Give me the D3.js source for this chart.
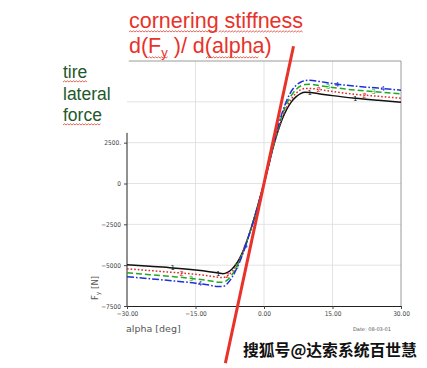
<!DOCTYPE html>
<html><head><meta charset="utf-8">
<script src="https://cdn.jsdelivr.net/npm/d3@7"></script>
<style>html,body{margin:0;padding:0;background:#fff;}svg{display:block;}</style>
</head><body>
<svg id="c" width="427" height="368"></svg>
<script>
// ---- data ----
const alpha = [-30,-25,-20,-15,-12,-10,-9,-8,-7,-6,-5,-4,-3,-2,-1,0,1,2,3,4,5,6,7,8,9,10,12,15,20,25,30];
const fy1 = [-4970,-5070,-5170,-5300,-5400,-5480,-5520,-5440,-5230,-4900,-4400,-3700,-2900,-2000,-1000,0,1100,2200,3150,3950,4550,5000,5300,5500,5580,5570,5500,5380,5220,5090,4970];
const fy2 = [-5220,-5330,-5440,-5560,-5660,-5740,-5760,-5650,-5400,-5000,-4450,-3720,-2900,-2000,-1000,0,1100,2200,3200,4050,4700,5180,5520,5730,5820,5820,5760,5630,5460,5340,5220];
const fy3 = [-5460,-5580,-5700,-5840,-5950,-6040,-6050,-5900,-5580,-5100,-4500,-3750,-2900,-2000,-1000,0,1100,2250,3300,4200,4900,5400,5750,5970,6060,6070,6000,5880,5720,5600,5490];
const fy4 = [-5710,-5830,-5960,-6100,-6220,-6310,-6300,-6120,-5750,-5220,-4580,-3800,-2920,-2000,-1000,0,1120,2300,3400,4350,5100,5650,6000,6200,6300,6320,6250,6120,5960,5840,5710];
const seriesNames = ["1","2","3","4"];
const markerAlpha = [[-20,-10,10,20],[-18,-8,12,22],[-16,-6,14,24],[-14,-4,16,26]];
const xTicks = [-30,-15,0,15,30];
const xTickLabels = ["\u221230.00","\u221215.00","0.00","15.00","30.00"];
const yTicks = [-7500,-5000,-2500,0,2500];
const yTickLabels = ["\u22127500","\u22125000","\u22122500","0","2500."];
const yGrid = [-5000,-2500,0,2500,5000];
const tangentSlope = 1300;          // N per deg
const tangentFy = [-11000, 8400];   // extent of the drawn tangent
const yAxisTop = 3100;

// ---- styles ----
const colors = ["#111111","#e02828","#1faa1f","#1f2fd8"];
const dashes = [null,"1.6,2","6,3","7,2,1.6,2"];

const svg = d3.select("#c");
const x = d3.scaleLinear().domain([-30,30]).range([127,401]);
const y = d3.scaleLinear().domain([-7500,7500]).range([306,61]);

// grid
svg.append("g").selectAll("line").data([-15,0,15]).join("line")
  .attr("x1",d=>x(d)).attr("x2",d=>x(d)).attr("y1",y(7500)).attr("y2",y(-7500))
  .attr("stroke","#dcdcdc").attr("stroke-width",0.8);
svg.append("g").selectAll("line").data(yGrid).join("line")
  .attr("x1",x(-30)).attr("x2",x(30)).attr("y1",d=>y(d)).attr("y2",d=>y(d))
  .attr("stroke","#dcdcdc").attr("stroke-width",0.8);

// frame
svg.append("line").attr("x1",x(-29.6)).attr("x2",x(30)).attr("y1",y(7500)).attr("y2",y(7500)).attr("stroke","#9a9a9a").attr("stroke-width",1);
svg.append("line").attr("x1",x(30)).attr("x2",x(30)).attr("y1",y(7500)).attr("y2",y(-7500)).attr("stroke","#9a9a9a").attr("stroke-width",1);
svg.append("line").attr("x1",x(-30)).attr("x2",x(-30)).attr("y1",y(yAxisTop)).attr("y2",y(-7500)).attr("stroke","#222").attr("stroke-width",1);

// axes
const xAxis = d3.axisBottom(x).tickValues(xTicks).tickFormat((d,i)=>xTickLabels[i]).tickSize(3).tickPadding(2);
const gx = svg.append("g").attr("transform",`translate(0,${y(-7500)})`).call(xAxis);
gx.select(".domain").attr("stroke","#222");
gx.selectAll("text").attr("font-family","DejaVu Sans Condensed, DejaVu Sans").attr("font-size",6.5).attr("fill","#444");
gx.selectAll(".tick line").attr("stroke","#444");

const yAxis = d3.axisLeft(y).tickValues(yTicks).tickFormat((d,i)=>yTickLabels[i]).tickSize(3).tickPadding(3);
const gy = svg.append("g").attr("transform",`translate(${x(-30)},0)`).call(yAxis);
gy.select(".domain").remove();
gy.selectAll("text").attr("font-family","DejaVu Sans Condensed, DejaVu Sans").attr("font-size",6.5).attr("fill","#444");
gy.selectAll(".tick line").attr("stroke","#444");

// curves
const allFy = [fy1,fy2,fy3,fy4];
const line = d3.line().x(d=>x(d[0])).y(d=>y(d[1])).curve(d3.curveMonotoneX);
allFy.forEach((vals,i)=>{
  const pts = alpha.map((a,j)=>[a,vals[j]]);
  svg.append("path").attr("d",line(pts)).attr("fill","none")
    .attr("stroke",colors[i]).attr("stroke-width",1.5)
    .attr("stroke-dasharray",dashes[i]);
  const interp = a => { // value on series at alpha a, from data
    const k = d3.bisectRight(alpha,a)-1; const a0=alpha[k], a1=alpha[k+1];
    return vals[k] + (vals[k+1]-vals[k])*(a-a0)/(a1-a0);
  };
  svg.append("g").selectAll("text").data(markerAlpha[i]).join("text")
    .attr("x",d=>x(d)).attr("y",d=>y(interp(d))+2.5)
    .attr("text-anchor","middle").attr("font-family","DejaVu Sans").attr("font-size",7)
    .attr("fill",colors[i]).text(seriesNames[i]);
});

// tangent line
svg.append("line")
  .attr("x1",x(tangentFy[0]/tangentSlope)).attr("y1",y(tangentFy[0]))
  .attr("x2",x(tangentFy[1]/tangentSlope)).attr("y2",y(tangentFy[1]))
  .attr("stroke","#e8322a").attr("stroke-width",3);

// axis titles
svg.append("text").attr("x",126).attr("y",332).attr("font-family","DejaVu Sans").attr("font-size",9.5).attr("fill","#555").text("alpha [deg]");
const fyl = svg.append("text").attr("transform","translate(98,288) rotate(-90)").attr("text-anchor","middle")
  .attr("font-family","DejaVu Sans").attr("font-size",8.5).attr("fill","#555");
fyl.append("tspan").text("F");
fyl.append("tspan").attr("font-size",6).attr("dy",2).text("y");
fyl.append("tspan").attr("dy",-2).text(" [N]");
svg.append("text").attr("x",353).attr("y",331).attr("font-family","DejaVu Sans").attr("font-size",5).attr("fill","#555").text("Date: 08-03-01");

// measurement helper
function measure(str,size,family){
  const t = svg.append("text").attr("font-family",family).attr("font-size",size).attr("visibility","hidden").text(str);
  const w = t.node().getComputedTextLength(); t.remove(); return w;
}
function squiggle(x0,x1,yb){
  let p = `M${x0},${yb}`; let up=true;
  for(let xx=x0+1.5; xx<=x1; xx+=1.5){ p += `L${xx},${yb+(up?-1.2:0)}`; up=!up; }
  svg.append("path").attr("d",p).attr("fill","none").attr("stroke","#e04030").attr("stroke-width",0.8);
}

// title
const TF = "Liberation Sans, Arial, sans-serif";
const red = "#e8322a";
const ts = 21.5;
svg.append("text").attr("x",129).attr("y",28).attr("font-family",TF).attr("font-size",ts).attr("fill",red).text("cornering stiffness");
squiggle(129,129+measure("cornering",ts,TF),32);
squiggle(129+measure("cornering ",ts,TF),129+measure("cornering stiffness",ts,TF),32);
const t2 = svg.append("text").attr("x",129).attr("y",53).attr("font-family",TF).attr("font-size",ts).attr("fill",red);
t2.append("tspan").text("d(F");
t2.append("tspan").attr("font-size",13).attr("dy",4).text("y");
t2.append("tspan").attr("dy",-4).text(" )/ d(alpha)");
const wF0 = measure("d(",ts,TF), wF1 = measure("d(F",ts,TF)+measure("y",13,TF);
squiggle(129+wF0,129+wF1,58);
const wA0 = measure("d(F",ts,TF)+measure("y",13,TF)+measure(" )/ d(",ts,TF);
squiggle(129+wA0,129+wA0+measure("alpha",ts,TF),58);

// left label
const green = "#22582a";
const ls = 17.5;
["tire","lateral","force"].forEach((w,i)=>{
  svg.append("text").attr("x",63).attr("y",78+i*21.5).attr("font-family",TF).attr("font-size",ls).attr("fill",green).text(w);
});
squiggle(63,63+measure("tire",ls,TF),82);
squiggle(63,63+measure("force",ls,TF),125);

// watermark
svg.append("text").attr("x",243).attr("y",356).attr("font-family","Noto Sans CJK SC").attr("font-weight","bold")
  .attr("font-size",15.8).attr("fill","#111").attr("stroke","#fff").attr("stroke-width",2.5)
  .attr("paint-order","stroke").text("搜狐号@达索系统百世慧");
</script>
</body></html>
